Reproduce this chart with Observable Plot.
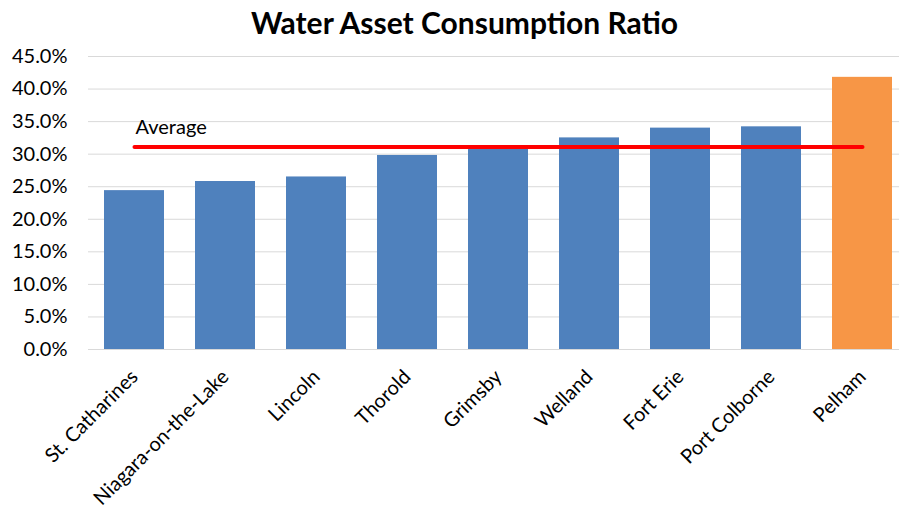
<!DOCTYPE html>
<html>
<head>
<meta charset="utf-8">
<script src="https://cdn.jsdelivr.net/npm/d3@7"></script>
<script src="https://cdn.jsdelivr.net/npm/@observablehq/plot@0.6"></script>
<style>
  html, body { margin: 0; padding: 0; background: #fff; overflow: hidden; }
  #title { width: 869px; padding-left: 30px; height: 44px; text-align: center; font-family: Lato, "Open Sans", sans-serif; font-weight: bold; font-size: 30px; line-height: 44px; color: #000; }
  #chart svg { display: block; overflow: visible; }
</style>
</head>
<body>
<div id="title">Water Asset Consumption Ratio</div>
<div id="chart"></div>
<script>
const municipalities = ["St. Catharines", "Niagara-on-the-Lake", "Lincoln", "Thorold", "Grimsby", "Welland", "Fort Erie", "Port Colborne", "Pelham"];
const ratios = [0.244, 0.258, 0.265, 0.298, 0.310, 0.325, 0.340, 0.342, 0.418];
const highlighted = ["Pelham"];
const averageValue = 0.311;
const averageLabel = "Average";
const yTicks = [0, 0.05, 0.10, 0.15, 0.20, 0.25, 0.30, 0.35, 0.40, 0.45];

const data = municipalities.map((name, i) => ({name, value: ratios[i], highlight: highlighted.includes(name)}));
const avgLine = municipalities.map(name => ({name, value: averageValue}));

const chart = Plot.plot({
  width: 899,
  height: 466,
  marginTop: 12,
  marginLeft: 88,
  marginRight: -9,
  marginBottom: 161,
  style: {fontFamily: "Lato, 'Open Sans', sans-serif", fontSize: "20px", color: "#000", background: "#fff"},
  x: {domain: municipalities, paddingInner: 0.34, paddingOuter: 0.17, label: null},
  y: {domain: [0, 0.45], label: null},
  marks: [
    Plot.gridY(yTicks, {stroke: "#d9d9d9", strokeOpacity: 1, strokeWidth: 1}),
    Plot.barY(data, {x: "name", y: "value", fill: d => d.highlight ? "#F79646" : "#4F81BD"}),
    Plot.lineY(avgLine, {x: "name", y: "value", stroke: "#FF0000", strokeWidth: 4, strokeLinecap: "round"}),
    Plot.text([avgLine[0]], {x: "name", y: "value", text: () => averageLabel, textAnchor: "start", dy: -19, dx: 1, fontSize: 20, fill: "#000"}),
    Plot.axisY(yTicks, {tickSize: 0, tickPadding: 21, tickFormat: d3.format(".1%"), fontSize: 20, fill: "#000"}),
    Plot.axisX({tickSize: 0, tickRotate: -45, tickPadding: 24, fontSize: 20, fill: "#000"})
  ]
});
document.getElementById("chart").appendChild(chart);
</script>
</body>
</html>
